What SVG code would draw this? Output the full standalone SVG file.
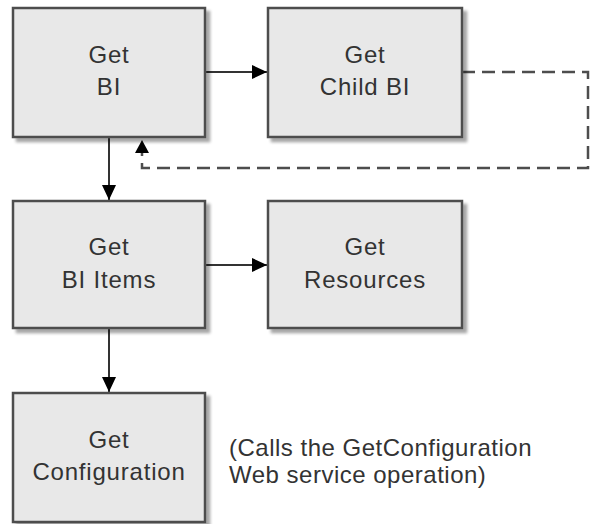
<svg xmlns="http://www.w3.org/2000/svg" width="590" height="524" viewBox="0 0 590 524">
<defs>
<filter id="sh" x="-10%" y="-10%" width="130%" height="130%">
<feGaussianBlur in="SourceAlpha" stdDeviation="1.5"/>
<feOffset dx="4" dy="4" result="o"/>
<feComponentTransfer><feFuncA type="linear" slope="0.35"/></feComponentTransfer>
<feMerge><feMergeNode/><feMergeNode in="SourceGraphic"/></feMerge>
</filter>
<marker id="ah" markerWidth="16" markerHeight="14" refX="15" refY="7" orient="auto" markerUnits="userSpaceOnUse">
<path d="M0,0 L15,7 L0,14 Z" fill="#000"/>
</marker>
</defs>
<style>
.box{fill:#e8e8e8;stroke:#4d4d4d;stroke-width:2.5;filter:url(#sh)}
.t{font-family:"Liberation Sans",Arial,sans-serif;font-size:24px;letter-spacing:0.8px;fill:#333;text-anchor:middle}
.c{font-family:"Liberation Sans",Arial,sans-serif;font-size:24px;letter-spacing:0.5px;fill:#333}
.ln{fill:none;stroke:#333;stroke-width:2}
.dash{fill:none;stroke:#4d4d4d;stroke-width:2.5;stroke-dasharray:13,7}
</style>
<rect width="590" height="524" fill="#fff"/>
<g id="connectors">
<path class="ln" d="M205,72 H267" marker-end="url(#ah)"/>
<path class="dash" d="M462,72 H588 V168 H142 V150"/>
<path d="M135,153 L142,140 L149,153 Z" fill="#000"/>
<path class="ln" d="M109,137 V200" marker-end="url(#ah)"/>
<path class="ln" d="M205,265 H267" marker-end="url(#ah)"/>
<path class="ln" d="M109,328 V392" marker-end="url(#ah)"/>
</g>
<g id="getbi"><rect class="box" x="13" y="8" width="192" height="129"/><text class="t" x="109" y="63">Get</text><text class="t" x="109" y="95">BI</text></g>
<g id="getchildbi"><rect class="box" x="268" y="8" width="194" height="129"/><text class="t" x="365" y="63">Get</text><text class="t" x="365" y="95">Child BI</text></g>
<g id="getbiitems"><rect class="box" x="13" y="201" width="192" height="127"/><text class="t" x="109" y="255">Get</text><text class="t" x="109" y="288">BI Items</text></g>
<g id="getresources"><rect class="box" x="268" y="201" width="194" height="127"/><text class="t" x="365" y="255">Get</text><text class="t" x="365" y="288">Resources</text></g>
<g id="getconfiguration"><rect class="box" x="13" y="393" width="192" height="129"/><text class="t" x="109" y="448">Get</text><text class="t" x="109" y="480">Configuration</text></g>
<g id="note"><text class="c" x="229" y="456">(Calls the GetConfiguration</text><text class="c" x="229" y="483">Web service operation)</text></g>
</svg>
